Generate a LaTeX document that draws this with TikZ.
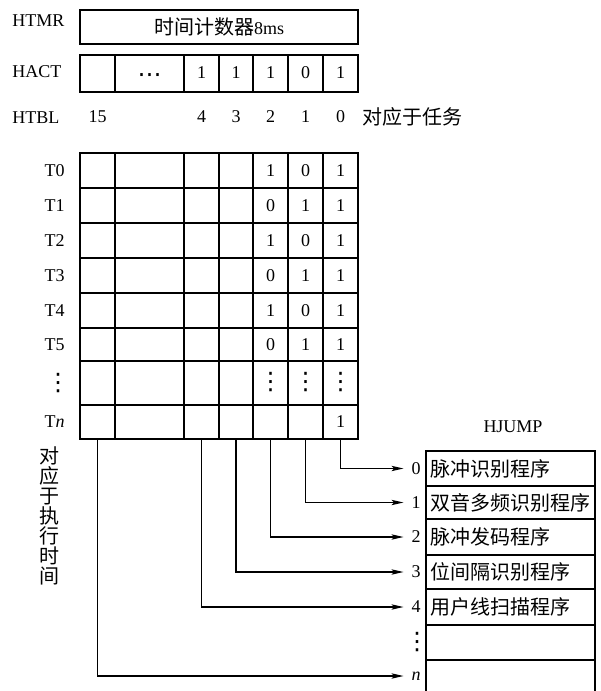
\documentclass[tikz,border=0pt]{standalone}
\usepackage{fontspec}
\setmainfont{Liberation Serif}
\newfontfamily\cjk{Noto Sans CJK SC}
\newfontfamily\dvs{DejaVu Sans}
\usetikzlibrary{arrows.meta}
\newcommand\zhs{\fontsize{15}{15}\selectfont\cjk}
\newcommand\vdd{{\dvs\fontsize{18}{18}\selectfont ⋮}}
\newcommand\hdd{{\dvs\fontsize{18}{18}\selectfont ⋯}}
\begin{document}
\begin{tikzpicture}[x=0.75pt,y=-0.75pt,
  box/.style={line width=1.35pt},
  tbl/.style={line width=1.1pt},
  conn/.style={line width=0.9pt},
  arr/.style={conn,-{Stealth[length=9pt,width=4pt,inset=2pt]}},
  lab/.style={font=\fontsize{13.5}{16}\selectfont, inner sep=0pt},
  zh/.style={font=\zhs, inner sep=0pt},
  num/.style={lab, outer sep=6pt}
]
\useasboundingbox (0,0) rectangle (600,691);

% ---------- HTMR ----------
\node[lab, anchor=base west] (lhtmr) at (12,27) {HTMR};
\draw[box] (80,10) rectangle (358,44);
\node[lab] (htmr) at (219,27) {{\zhs 时间计数器}8ms};

% ---------- HACT ----------
\node[lab, anchor=base west] (lhact) at (12,78) {HACT};
\draw[box] (80,55) rectangle (358,92);
\foreach \x in {115,184,219,253,288,323} \draw[box] (\x,55) -- (\x,92);
\node[lab] (hdots) at (149.5,78) {\hdd};
\foreach \v [count=\i] in {1,1,1,0,1} {
  \pgfmathsetmacro\cx{{201.5,236,270.5,305.5,340.5}[\i-1]}
  \node[lab] (hact\i) at (\cx,73) {\v};
}

% ---------- HTBL ----------
\node[lab, anchor=base west] (lhtbl) at (12,124) {HTBL};
\node[lab] (b15) at (97.5,117) {15};
\node[lab] (bit4) at (201.5,117) {4};
\node[lab] (bit3) at (236,117) {3};
\node[lab] (bit2) at (270.5,117) {2};
\node[lab] (bit1) at (305.5,117) {1};
\node[lab] (bit0) at (340.5,117) {0};
\node[zh, anchor=west] (task) at (362,117) {对应于任务};

% ---------- grid ----------
\draw[box] (80,153) rectangle (358,439);
\foreach \x in {115,184,219,253,288,323} \draw[box] (\x,153) -- (\x,439);
\foreach \y in {188,223,258,293,328,361,405} \draw[box] (80,\y) -- (358,\y);

\node[lab, anchor=east] (t0) at (65,170.5) {T0};
\node[lab, anchor=east] (t1) at (65,205.5) {T1};
\node[lab, anchor=east] (t2) at (65,240.5) {T2};
\node[lab, anchor=east] (t3) at (65,275.5) {T3};
\node[lab, anchor=east] (t4) at (65,310.5) {T4};
\node[lab, anchor=east] (t5) at (65,344.5) {T5};
\node[lab] (tv) at (58,383) {\vdd};
\node[lab, anchor=east] (tn) at (65,422) {T\textit{n}};

\foreach \a/\b/\c [count=\r] in {1/0/1, 0/1/1, 1/0/1, 0/1/1, 1/0/1, 0/1/1} {
  \pgfmathsetmacro\cy{{170.5,205.5,240.5,275.5,310.5,344.5}[\r-1]}
  \node[lab] (g\r a) at (270.5,\cy) {\a};
  \node[lab] (g\r b) at (305.5,\cy) {\b};
  \node[lab] (g\r c) at (340.5,\cy) {\c};
}
\node[lab] (gva) at (270.5,382) {\vdd};
\node[lab] (gvb) at (305.5,382) {\vdd};
\node[lab] (gvc) at (340.5,382) {\vdd};
\node[lab] (gnc) at (340.5,422) {1};

% vertical caption
\node[zh, align=center] (exec) at (49,515.5) {对\\应\\于\\执\\行\\时\\间};

% ---------- HJUMP ----------
\node[lab] (hjump) at (513,427) {HJUMP};
\draw[tbl] (426,691) -- (426,451) -- (595,451) -- (595,691);
\foreach \y in {486,519,555,589,625,660} \draw[tbl] (426,\y) -- (595,\y);

\node[zh, anchor=west] (p0) at (430,468.5) {脉冲识别程序};
\node[zh, anchor=west] (p1) at (430,502.5) {双音多频识别程序};
\node[zh, anchor=west] (p2) at (430,537) {脉冲发码程序};
\node[zh, anchor=west] (p3) at (430,572) {位间隔识别程序};
\node[zh, anchor=west] (p4) at (430,607) {用户线扫描程序};

\node[num] (j0) at (416,468.5) {0};
\node[num] (j1) at (416,502.5) {1};
\node[num] (j2) at (416,537) {2};
\node[num] (j3) at (416,572) {3};
\node[num] (j4) at (416,607) {4};
\node[lab] (jv) at (417,642.5) {\vdd};
\node[num] (jn) at (416,676) {\textit{n}};

% ---------- connectors ----------
\coordinate (c0) at (97.5,439);
\coordinate (c2) at (201.5,439);
\coordinate (c3) at (236,439);
\coordinate (c4) at (270.5,439);
\coordinate (c5) at (305.5,439);
\coordinate (c6) at (340.5,439);

\draw[arr] (c6) |- (j0);
\draw[arr] (c5) |- (j1);
\draw[arr] (c4) |- (j2);
\draw[arr] (c3) |- (j3);
\draw[arr] (c2) |- (j4);
\draw[arr] (c0) |- (jn);
\end{tikzpicture}
\end{document}
